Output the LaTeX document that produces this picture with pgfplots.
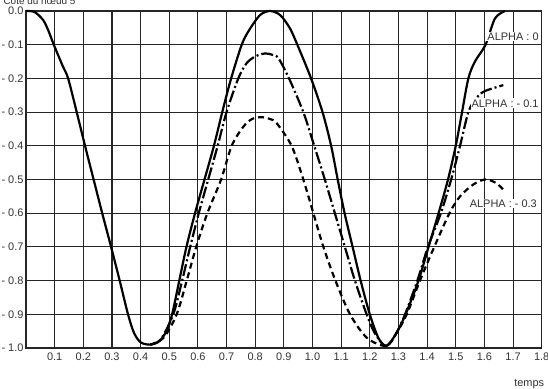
\documentclass[border=0pt]{standalone}
\usepackage{pgfplots}
\pgfplotsset{compat=1.18}
\usepackage{fontspec}
\setmainfont{Liberation Sans}
\begin{document}
\begin{tikzpicture}
\begin{axis}[
  at={(0,0)}, anchor=south west,
  scale only axis, width=515.7bp, height=337bp,
  xmin=0, xmax=1.8, ymin=-1, ymax=0,
  clip=false,
  axis line style={black!85, line width=1.1bp},
  grid=major,
  major grid style={black!85, line width=1.1bp},
  major tick length=0pt,
  xtick={0.1,0.2,0.3,0.4,0.5,0.6,0.7,0.8,0.9,1.0,1.1,1.2,1.3,1.4,1.5,1.6,1.7,1.8},
  xticklabels={0.1,0.2,0.3,0.4,0.5,0.6,0.7,0.8,0.9,1.0,1.1,1.2,1.3,1.4,1.5,1.6,1.7,1.8},
  extra x ticks={0}, extra x tick labels={},
  ytick={-1,-0.9,-0.8,-0.7,-0.6,-0.5,-0.4,-0.3,-0.2,-0.1,0},
  yticklabels={- 1.0,- 0.9,- 0.8,- 0.7,- 0.6,- 0.5,- 0.4,- 0.3,- 0.2,- 0.1,0.0},
  tick label style={font=\fontsize{11}{13}\selectfont, text=black!80},
  xticklabel style={yshift=-1bp},
  yticklabel style={xshift=1bp},
  xlabel={temps},
  xlabel style={at={(axis description cs:1,0)}, anchor=east, xshift=6bp, yshift=-36bp, font=\fontsize{11}{13}\selectfont, text=black!80},
]
% ALPHA : 0
\addplot[black, line width=2.2bp, smooth] coordinates {
(0,0) (0.03,-0.003) (0.06,-0.027) (0.078,-0.058) (0.097,-0.1) (0.128,-0.163) (0.147,-0.2)
(0.177,-0.3) (0.206,-0.4) (0.236,-0.5) (0.266,-0.6) (0.297,-0.7) (0.327,-0.8) (0.356,-0.9)
(0.377,-0.955) (0.40,-0.983) (0.433,-0.99) (0.465,-0.98) (0.49,-0.95) (0.51,-0.9) (0.535,-0.8)
(0.56,-0.7) (0.59,-0.6) (0.623,-0.5) (0.656,-0.4) (0.685,-0.3) (0.716,-0.2) (0.753,-0.1)
(0.778,-0.058) (0.817,-0.012) (0.852,0) (0.887,-0.012) (0.921,-0.051) (0.947,-0.1)
(0.995,-0.2) (1.035,-0.3) (1.065,-0.4) (1.088,-0.5) (1.112,-0.6) (1.14,-0.7) (1.168,-0.8)
(1.2,-0.9) (1.23,-0.97) (1.257,-0.994) (1.29,-0.96) (1.325,-0.9) (1.37,-0.8) (1.405,-0.7)
(1.44,-0.6) (1.473,-0.5) (1.50,-0.4) (1.522,-0.3) (1.544,-0.2) (1.567,-0.15) (1.604,-0.1)
(1.637,-0.022) (1.672,0)
};
% ALPHA : -0.1
\addplot[black, line width=2.2bp, smooth, dash pattern=on 12bp off 3bp on 2bp off 3bp] coordinates {
(0.433,-0.99) (0.47,-0.975) (0.514,-0.9) (0.545,-0.8) (0.573,-0.7) (0.603,-0.6) (0.636,-0.5)
(0.669,-0.4) (0.70,-0.3) (0.741,-0.2) (0.77,-0.155) (0.80,-0.135) (0.834,-0.126)
(0.86,-0.13) (0.881,-0.14) (0.918,-0.2) (0.968,-0.3) (1.006,-0.4) (1.043,-0.5) (1.078,-0.6)
(1.113,-0.7) (1.148,-0.8) (1.189,-0.9) (1.22,-0.96) (1.257,-0.994) (1.29,-0.96) (1.323,-0.9)
(1.366,-0.8) (1.403,-0.7) (1.448,-0.6) (1.484,-0.5) (1.515,-0.4) (1.544,-0.3) (1.57,-0.26)
(1.596,-0.24) (1.631,-0.229) (1.666,-0.22)
};
% ALPHA : -0.3
\addplot[black, line width=2.2bp, smooth, dash pattern=on 6bp off 4bp] coordinates {
(0.433,-0.99) (0.48,-0.97) (0.526,-0.9) (0.561,-0.8) (0.594,-0.7) (0.633,-0.6) (0.681,-0.5)
(0.718,-0.4) (0.759,-0.343) (0.79,-0.32) (0.823,-0.315) (0.85,-0.32) (0.875,-0.333)
(0.927,-0.4) (0.968,-0.5) (1.003,-0.6) (1.038,-0.7) (1.08,-0.8) (1.131,-0.9) (1.19,-0.97)
(1.257,-0.994) (1.29,-0.96) (1.329,-0.9) (1.375,-0.8) (1.425,-0.7) (1.478,-0.6)
(1.515,-0.55) (1.561,-0.515) (1.602,-0.50) (1.64,-0.51) (1.672,-0.535)
};
\node[fill=white, inner sep=1bp, font=\fontsize{11}{13}\selectfont, text=black!80] at (axis cs:1.70,-0.076) {ALPHA : 0};
\node[fill=white, inner sep=1bp, font=\fontsize{11}{13}\selectfont, text=black!80] at (axis cs:1.672,-0.274) {ALPHA : - 0.1};
\node[fill=white, inner sep=1bp, font=\fontsize{11}{13}\selectfont, text=black!80] at (axis cs:1.666,-0.571) {ALPHA : - 0.3};
\node[anchor=base west, font=\fontsize{10}{12}\selectfont, text=black!80, xshift=-26bp, yshift=6.5bp] at (axis description cs:0,1) {Cote du nœud 5};
\end{axis}
\pgfresetboundingbox
\useasboundingbox (-26bp,-41bp) rectangle (522bp,348bp);
\end{tikzpicture}
\end{document}
